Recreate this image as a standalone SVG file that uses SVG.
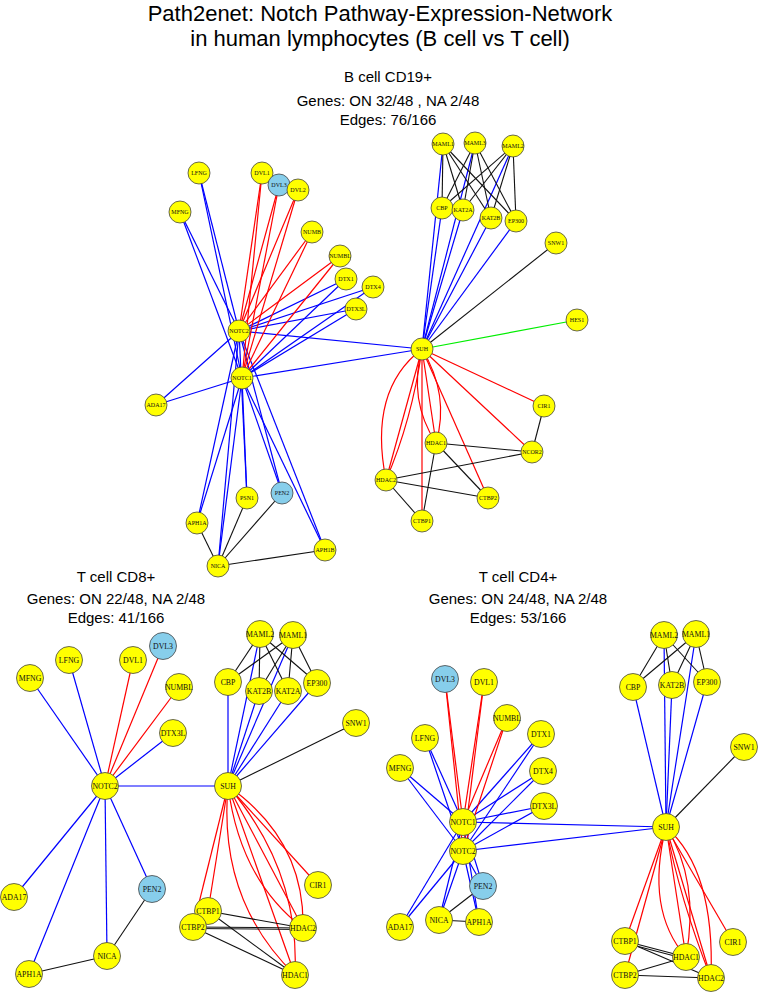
<svg xmlns="http://www.w3.org/2000/svg" width="759" height="992" viewBox="0 0 759 992">
<style>
.b{stroke:#0000ff;stroke-width:1.2;fill:none}
.r{stroke:#ff0000;stroke-width:1.2;fill:none}
.k{stroke:#111;stroke-width:1.1;fill:none}
.g{stroke:#00ee00;stroke-width:1.2;fill:none}
.n circle{fill:#ffff00;stroke:#444;stroke-width:0.8}
.n.c circle{fill:#87ceeb}
.s text{font-family:"Liberation Serif","Times New Roman",serif;font-size:6px;text-anchor:middle;fill:#111}
.l text{font-family:"Liberation Serif","Times New Roman",serif;font-size:7.8px;text-anchor:middle;fill:#111}
.h{font-family:"Liberation Sans",Arial,sans-serif;text-anchor:middle;fill:#000}
</style>
<rect width="759" height="992" fill="#fff"/>
<g id="titles">
<text class="h" x="380" y="21" font-size="22">Path2enet: Notch Pathway-Expression-Network</text>
<text class="h" x="380" y="46" font-size="22">in human lymphocytes (B cell vs T cell)</text>
<text class="h" x="388" y="82" font-size="15">B cell CD19+</text>
<text class="h" x="388" y="106" font-size="15">Genes: ON 32/48 , NA 2/48</text>
<text class="h" x="388" y="125" font-size="15">Edges: 76/166</text>
<text class="h" x="116" y="582" font-size="15">T cell CD8+</text>
<text class="h" x="116" y="604" font-size="15">Genes: ON 22/48, NA 2/48</text>
<text class="h" x="116" y="623" font-size="15">Edges: 41/166</text>
<text class="h" x="518" y="582" font-size="15">T cell CD4+</text>
<text class="h" x="518" y="604" font-size="15">Genes: ON 24/48, NA 2/48</text>
<text class="h" x="518" y="623" font-size="15">Edges: 53/166</text>
</g>
<g id="connectors">
<!-- B cell -->
<g class="b">
<line x1="199" y1="173" x2="239" y2="331"/><line x1="199" y1="173" x2="242" y2="378"/>
<line x1="180" y1="212" x2="239" y2="331"/><line x1="180" y1="212" x2="242" y2="378"/>
<line x1="346" y1="279" x2="239" y2="331"/><line x1="346" y1="279" x2="242" y2="378"/>
<line x1="373" y1="287" x2="239" y2="331"/><line x1="373" y1="287" x2="242" y2="378"/>
<line x1="356" y1="309" x2="239" y2="331"/><line x1="356" y1="309" x2="242" y2="378"/>
<line x1="156" y1="405" x2="239" y2="331"/><line x1="156" y1="405" x2="242" y2="378"/>
<line x1="247" y1="498" x2="239" y2="331"/><line x1="247" y1="498" x2="242" y2="378"/>
<line x1="282" y1="493" x2="239" y2="331"/><line x1="282" y1="493" x2="242" y2="378"/>
<line x1="197" y1="523" x2="239" y2="331"/><line x1="197" y1="523" x2="242" y2="378"/>
<line x1="218" y1="566" x2="239" y2="331"/><line x1="218" y1="566" x2="242" y2="378"/>
<line x1="325" y1="550" x2="239" y2="331"/><line x1="325" y1="550" x2="242" y2="378"/>
<line x1="422" y1="349" x2="239" y2="331"/><line x1="422" y1="349" x2="242" y2="378"/>
<line x1="443" y1="144" x2="422" y2="349"/><line x1="475" y1="143" x2="422" y2="349"/><line x1="513" y1="146" x2="422" y2="349"/>
<line x1="442" y1="208" x2="422" y2="349"/><line x1="463" y1="210" x2="422" y2="349"/><line x1="491" y1="218" x2="422" y2="349"/><line x1="516" y1="221" x2="422" y2="349"/>
</g>
<g class="r">
<line x1="262" y1="173" x2="239" y2="331"/><line x1="262" y1="173" x2="242" y2="378"/>
<line x1="279" y1="185" x2="239" y2="331"/><line x1="279" y1="185" x2="242" y2="378"/>
<line x1="298" y1="190" x2="239" y2="331"/><line x1="298" y1="190" x2="242" y2="378"/>
<line x1="312" y1="232" x2="239" y2="331"/><line x1="312" y1="232" x2="242" y2="378"/>
<line x1="340" y1="256" x2="239" y2="331"/><line x1="340" y1="256" x2="242" y2="378"/>
<line x1="422" y1="349" x2="544" y2="406"/><line x1="422" y1="349" x2="532" y2="452"/>
<line x1="422" y1="349" x2="488" y2="498"/><line x1="422" y1="349" x2="422" y2="521"/>
<line x1="422" y1="349" x2="436" y2="443"/><path d="M422 349 Q408 400 436 443"/><path d="M422 349 Q450 395 436 443"/>
<line x1="422" y1="349" x2="386" y2="480"/><path d="M422 349 Q368 390 386 480"/><path d="M422 349 Q412 420 386 480"/>
</g>
<g class="k">
<line x1="218" y1="566" x2="197" y2="523"/><line x1="218" y1="566" x2="247" y2="498"/><line x1="218" y1="566" x2="282" y2="493"/><line x1="218" y1="566" x2="325" y2="550"/>
<line x1="443" y1="144" x2="442" y2="208"/><line x1="443" y1="144" x2="463" y2="210"/><line x1="443" y1="144" x2="491" y2="218"/><line x1="443" y1="144" x2="516" y2="221"/>
<line x1="475" y1="143" x2="442" y2="208"/><line x1="475" y1="143" x2="463" y2="210"/><line x1="475" y1="143" x2="491" y2="218"/><line x1="475" y1="143" x2="516" y2="221"/>
<line x1="513" y1="146" x2="442" y2="208"/><line x1="513" y1="146" x2="463" y2="210"/><line x1="513" y1="146" x2="491" y2="218"/><line x1="513" y1="146" x2="516" y2="221"/>
<line x1="422" y1="349" x2="556" y2="243"/>
<line x1="544" y1="406" x2="532" y2="452"/><line x1="436" y1="443" x2="532" y2="452"/><line x1="436" y1="443" x2="488" y2="498"/><line x1="436" y1="443" x2="422" y2="521"/>
<line x1="386" y1="480" x2="532" y2="452"/><line x1="386" y1="480" x2="488" y2="498"/><line x1="386" y1="480" x2="422" y2="521"/>
</g>
<line class="g" x1="422" y1="349" x2="577" y2="320"/>
<!-- T cell CD8 -->
<g class="b">
<line x1="105" y1="786" x2="30" y2="678"/><line x1="105" y1="786" x2="69" y2="660"/><line x1="105" y1="786" x2="173" y2="733"/>
<line x1="105" y1="786" x2="14" y2="897"/><line x1="105" y1="786" x2="29" y2="974"/><line x1="105" y1="786" x2="107" y2="956"/><line x1="105" y1="786" x2="152" y2="889"/>
<line x1="105" y1="786" x2="228" y2="786"/>
<line x1="228" y1="682" x2="228" y2="786"/><line x1="260" y1="634" x2="228" y2="786"/><line x1="259" y1="691" x2="228" y2="786"/>
<line x1="293" y1="635" x2="228" y2="786"/><line x1="288" y1="691" x2="228" y2="786"/><line x1="317" y1="683" x2="228" y2="786"/>
</g>
<g class="r">
<line x1="105" y1="786" x2="133" y2="660"/><line x1="105" y1="786" x2="163" y2="646"/><line x1="105" y1="786" x2="179" y2="687"/>
<line x1="228" y1="786" x2="208" y2="911"/><line x1="228" y1="786" x2="193" y2="927"/><line x1="228" y1="786" x2="318" y2="885"/>
<line x1="228" y1="786" x2="303" y2="928"/><path d="M228 786 Q240 880 303 928"/><path d="M228 786 Q305 840 303 928"/>
<line x1="228" y1="786" x2="295" y2="975"/><path d="M228 786 Q218 900 295 975"/><path d="M228 786 Q300 870 295 975"/>
</g>
<g class="k">
<line x1="107" y1="956" x2="29" y2="974"/><line x1="107" y1="956" x2="152" y2="889"/>
<line x1="260" y1="634" x2="228" y2="682"/><line x1="260" y1="634" x2="259" y2="691"/><line x1="260" y1="634" x2="288" y2="691"/><line x1="260" y1="634" x2="317" y2="683"/>
<line x1="293" y1="635" x2="228" y2="682"/><line x1="293" y1="635" x2="259" y2="691"/><line x1="293" y1="635" x2="288" y2="691"/><line x1="293" y1="635" x2="317" y2="683"/>
<line x1="228" y1="786" x2="356" y2="723"/>
<line x1="208" y1="911" x2="303" y2="928"/><line x1="208" y1="911" x2="295" y2="975"/>
<line x1="193" y1="927" x2="303" y2="928"/><line x1="193" y1="928.5" x2="303" y2="929.5"/><line x1="193" y1="927" x2="295" y2="975"/>
</g>
<!-- T cell CD4 -->
<g class="b">
<line x1="425" y1="738" x2="463" y2="822"/><line x1="425" y1="738" x2="463" y2="851"/>
<line x1="400" y1="768" x2="463" y2="822"/><line x1="400" y1="768" x2="463" y2="851"/>
<line x1="541" y1="734" x2="463" y2="822"/><line x1="541" y1="734" x2="463" y2="851"/>
<line x1="543" y1="771" x2="463" y2="822"/><line x1="543" y1="771" x2="463" y2="851"/>
<line x1="544" y1="806" x2="463" y2="822"/><line x1="544" y1="806" x2="463" y2="851"/>
<line x1="666" y1="827" x2="463" y2="822"/><line x1="666" y1="827" x2="463" y2="851"/>
<line x1="400" y1="927" x2="463" y2="822"/><line x1="400" y1="927" x2="463" y2="851"/>
<line x1="439" y1="920" x2="463" y2="822"/><line x1="439" y1="920" x2="463" y2="851"/>
<line x1="483" y1="886" x2="463" y2="822"/><line x1="483" y1="886" x2="463" y2="851"/>
<line x1="479" y1="922" x2="463" y2="822"/><line x1="479" y1="922" x2="463" y2="851"/>
<line x1="633" y1="687" x2="666" y2="827"/><line x1="664" y1="635" x2="666" y2="827"/><line x1="672" y1="685" x2="666" y2="827"/>
<line x1="696" y1="634" x2="666" y2="827"/><line x1="707" y1="682" x2="666" y2="827"/>
</g>
<g class="r">
<line x1="445" y1="679" x2="463" y2="822"/><line x1="445" y1="679" x2="463" y2="851"/>
<line x1="484" y1="682" x2="463" y2="822"/><line x1="484" y1="682" x2="463" y2="851"/>
<line x1="507" y1="718" x2="463" y2="822"/><line x1="507" y1="718" x2="463" y2="851"/>
<line x1="666" y1="827" x2="625" y2="941"/><line x1="666" y1="827" x2="625" y2="975"/><line x1="666" y1="827" x2="733" y2="942"/>
<line x1="666" y1="827" x2="686" y2="957"/><path d="M666 827 Q645 910 686 957"/><path d="M666 827 Q700 880 686 957"/>
<line x1="666" y1="827" x2="711" y2="978"/><path d="M666 827 Q715 870 711 978"/><path d="M666 827 Q680 900 711 978"/>
</g>
<g class="k">
<line x1="439" y1="920" x2="483" y2="886"/><line x1="439" y1="920" x2="479" y2="922"/>
<line x1="664" y1="635" x2="633" y2="687"/><line x1="664" y1="635" x2="672" y2="685"/><line x1="664" y1="635" x2="707" y2="682"/>
<line x1="696" y1="634" x2="633" y2="687"/><line x1="696" y1="634" x2="672" y2="685"/><line x1="696" y1="634" x2="707" y2="682"/>
<line x1="666" y1="827" x2="744" y2="747"/>
<line x1="625" y1="941" x2="686" y2="957"/><line x1="625" y1="943" x2="686" y2="959"/><line x1="625" y1="941" x2="711" y2="978"/>
<line x1="625" y1="975" x2="686" y2="957"/><line x1="625" y1="975" x2="711" y2="978"/>
</g>
</g>
<!-- B cell nodes -->
<g class="s">
<g id="b-LFNG" class="n"><circle cx="199" cy="173" r="11"/><text x="199" y="175">LFNG</text></g>
<g id="b-MFNG" class="n"><circle cx="180" cy="212" r="11"/><text x="180" y="214">MFNG</text></g>
<g id="b-DVL1" class="n"><circle cx="262" cy="173" r="11"/><text x="262" y="175">DVL1</text></g>
<g id="b-DVL3" class="n c"><circle cx="279" cy="185" r="11"/><text x="279" y="187">DVL3</text></g>
<g id="b-DVL2" class="n"><circle cx="298" cy="190" r="11"/><text x="298" y="192">DVL2</text></g>
<g id="b-NUMB" class="n"><circle cx="312" cy="232" r="11"/><text x="312" y="234">NUMB</text></g>
<g id="b-NUMBL" class="n"><circle cx="340" cy="256" r="11"/><text x="340" y="258">NUMBL</text></g>
<g id="b-DTX1" class="n"><circle cx="346" cy="279" r="11"/><text x="346" y="281">DTX1</text></g>
<g id="b-DTX4" class="n"><circle cx="373" cy="287" r="11"/><text x="373" y="289">DTX4</text></g>
<g id="b-DTX3L" class="n"><circle cx="356" cy="309" r="11"/><text x="356" y="311">DTX3L</text></g>
<g id="b-NOTC2" class="n"><circle cx="239" cy="331" r="11"/><text x="239" y="333">NOTC2</text></g>
<g id="b-NOTC1" class="n"><circle cx="242" cy="378" r="11"/><text x="242" y="380">NOTC1</text></g>
<g id="b-ADA17" class="n"><circle cx="156" cy="405" r="11"/><text x="156" y="407">ADA17</text></g>
<g id="b-PSN1" class="n"><circle cx="247" cy="498" r="11"/><text x="247" y="500">PSN1</text></g>
<g id="b-PEN2" class="n c"><circle cx="282" cy="493" r="11"/><text x="282" y="495">PEN2</text></g>
<g id="b-APH1A" class="n"><circle cx="197" cy="523" r="11"/><text x="197" y="525">APH1A</text></g>
<g id="b-NICA" class="n"><circle cx="218" cy="566" r="11"/><text x="218" y="568">NICA</text></g>
<g id="b-APH1B" class="n"><circle cx="325" cy="550" r="11"/><text x="325" y="552">APH1B</text></g>
<g id="b-MAML1" class="n"><circle cx="443" cy="144" r="11"/><text x="443" y="146">MAML1</text></g>
<g id="b-MAML3" class="n"><circle cx="475" cy="143" r="11"/><text x="475" y="145">MAML3</text></g>
<g id="b-MAML2" class="n"><circle cx="513" cy="146" r="11"/><text x="513" y="148">MAML2</text></g>
<g id="b-CBP" class="n"><circle cx="442" cy="208" r="11"/><text x="442" y="210">CBP</text></g>
<g id="b-KAT2A" class="n"><circle cx="463" cy="210" r="11"/><text x="463" y="212">KAT2A</text></g>
<g id="b-KAT2B" class="n"><circle cx="491" cy="218" r="11"/><text x="491" y="220">KAT2B</text></g>
<g id="b-EP300" class="n"><circle cx="516" cy="221" r="11"/><text x="516" y="223">EP300</text></g>
<g id="b-SNW1" class="n"><circle cx="556" cy="243" r="11"/><text x="556" y="245">SNW1</text></g>
<g id="b-HES1" class="n"><circle cx="577" cy="320" r="11"/><text x="577" y="322">HES1</text></g>
<g id="b-SUH" class="n"><circle cx="422" cy="349" r="11"/><text x="422" y="351">SUH</text></g>
<g id="b-CIR1" class="n"><circle cx="544" cy="406" r="11"/><text x="544" y="408">CIR1</text></g>
<g id="b-HDAC1" class="n"><circle cx="436" cy="443" r="11"/><text x="436" y="445">HDAC1</text></g>
<g id="b-NCOR2" class="n"><circle cx="532" cy="452" r="11"/><text x="532" y="454">NCOR2</text></g>
<g id="b-HDAC2" class="n"><circle cx="386" cy="480" r="11"/><text x="386" y="482">HDAC2</text></g>
<g id="b-CTBP2" class="n"><circle cx="488" cy="498" r="11"/><text x="488" y="500">CTBP2</text></g>
<g id="b-CTBP1" class="n"><circle cx="422" cy="521" r="11"/><text x="422" y="523">CTBP1</text></g>
</g>
<!-- T cell CD8 nodes -->
<g class="l">
<g id="c8-MFNG" class="n"><circle cx="30" cy="678" r="13.5"/><text x="30" y="681">MFNG</text></g>
<g id="c8-LFNG" class="n"><circle cx="69" cy="660" r="13.5"/><text x="69" y="663">LFNG</text></g>
<g id="c8-DVL1" class="n"><circle cx="133" cy="660" r="13.5"/><text x="133" y="663">DVL1</text></g>
<g id="c8-DVL3" class="n c"><circle cx="163" cy="646" r="13.5"/><text x="163" y="649">DVL3</text></g>
<g id="c8-NUMBL" class="n"><circle cx="179" cy="687" r="13.5"/><text x="179" y="690">NUMBL</text></g>
<g id="c8-DTX3L" class="n"><circle cx="173" cy="733" r="13.5"/><text x="173" y="736">DTX3L</text></g>
<g id="c8-NOTC2" class="n"><circle cx="105" cy="786" r="13.5"/><text x="105" y="789">NOTC2</text></g>
<g id="c8-ADA17" class="n"><circle cx="14" cy="897" r="13.5"/><text x="14" y="900">ADA17</text></g>
<g id="c8-PEN2" class="n c"><circle cx="152" cy="889" r="13.5"/><text x="152" y="892">PEN2</text></g>
<g id="c8-APH1A" class="n"><circle cx="29" cy="974" r="13.5"/><text x="29" y="977">APH1A</text></g>
<g id="c8-NICA" class="n"><circle cx="107" cy="956" r="13.5"/><text x="107" y="959">NICA</text></g>
<g id="c8-MAML2" class="n"><circle cx="260" cy="634" r="13.5"/><text x="260" y="637">MAML2</text></g>
<g id="c8-MAML1" class="n"><circle cx="293" cy="635" r="13.5"/><text x="293" y="638">MAML1</text></g>
<g id="c8-CBP" class="n"><circle cx="228" cy="682" r="13.5"/><text x="228" y="685">CBP</text></g>
<g id="c8-KAT2B" class="n"><circle cx="259" cy="691" r="13.5"/><text x="259" y="694">KAT2B</text></g>
<g id="c8-KAT2A" class="n"><circle cx="288" cy="691" r="13.5"/><text x="288" y="694">KAT2A</text></g>
<g id="c8-EP300" class="n"><circle cx="317" cy="683" r="13.5"/><text x="317" y="686">EP300</text></g>
<g id="c8-SNW1" class="n"><circle cx="356" cy="723" r="13.5"/><text x="356" y="726">SNW1</text></g>
<g id="c8-SUH" class="n"><circle cx="228" cy="786" r="13.5"/><text x="228" y="789">SUH</text></g>
<g id="c8-CIR1" class="n"><circle cx="318" cy="885" r="13.5"/><text x="318" y="888">CIR1</text></g>
<g id="c8-HDAC2" class="n"><circle cx="303" cy="928" r="13.5"/><text x="303" y="931">HDAC2</text></g>
<g id="c8-HDAC1" class="n"><circle cx="295" cy="975" r="13.5"/><text x="295" y="978">HDAC1</text></g>
<g id="c8-CTBP1" class="n"><circle cx="208" cy="911" r="13.5"/><text x="208" y="914">CTBP1</text></g>
<g id="c8-CTBP2" class="n"><circle cx="193" cy="927" r="13.5"/><text x="193" y="930">CTBP2</text></g>
</g>
<!-- T cell CD4 nodes -->
<g class="l">
<g id="c4-DVL3" class="n c"><circle cx="445" cy="679" r="13.5"/><text x="445" y="682">DVL3</text></g>
<g id="c4-DVL1" class="n"><circle cx="484" cy="682" r="13.5"/><text x="484" y="685">DVL1</text></g>
<g id="c4-NUMBL" class="n"><circle cx="507" cy="718" r="13.5"/><text x="507" y="721">NUMBL</text></g>
<g id="c4-LFNG" class="n"><circle cx="425" cy="738" r="13.5"/><text x="425" y="741">LFNG</text></g>
<g id="c4-DTX1" class="n"><circle cx="541" cy="734" r="13.5"/><text x="541" y="737">DTX1</text></g>
<g id="c4-MFNG" class="n"><circle cx="400" cy="768" r="13.5"/><text x="400" y="771">MFNG</text></g>
<g id="c4-DTX4" class="n"><circle cx="543" cy="771" r="13.5"/><text x="543" y="774">DTX4</text></g>
<g id="c4-DTX3L" class="n"><circle cx="544" cy="806" r="13.5"/><text x="544" y="809">DTX3L</text></g>
<g id="c4-NOTC1" class="n"><circle cx="463" cy="822" r="13.5"/><text x="463" y="825">NOTC1</text></g>
<g id="c4-NOTC2" class="n"><circle cx="463" cy="851" r="13.5"/><text x="463" y="854">NOTC2</text></g>
<g id="c4-PEN2" class="n c"><circle cx="483" cy="886" r="13.5"/><text x="483" y="889">PEN2</text></g>
<g id="c4-ADA17" class="n"><circle cx="400" cy="927" r="13.5"/><text x="400" y="930">ADA17</text></g>
<g id="c4-NICA" class="n"><circle cx="439" cy="920" r="13.5"/><text x="439" y="923">NICA</text></g>
<g id="c4-APH1A" class="n"><circle cx="479" cy="922" r="13.5"/><text x="479" y="925">APH1A</text></g>
<g id="c4-MAML2" class="n"><circle cx="664" cy="635" r="13.5"/><text x="664" y="638">MAML2</text></g>
<g id="c4-MAML1" class="n"><circle cx="696" cy="634" r="13.5"/><text x="696" y="637">MAML1</text></g>
<g id="c4-CBP" class="n"><circle cx="633" cy="687" r="13.5"/><text x="633" y="690">CBP</text></g>
<g id="c4-KAT2B" class="n"><circle cx="672" cy="685" r="13.5"/><text x="672" y="688">KAT2B</text></g>
<g id="c4-EP300" class="n"><circle cx="707" cy="682" r="13.5"/><text x="707" y="685">EP300</text></g>
<g id="c4-SNW1" class="n"><circle cx="744" cy="747" r="13.5"/><text x="744" y="750">SNW1</text></g>
<g id="c4-SUH" class="n"><circle cx="666" cy="827" r="13.5"/><text x="666" y="830">SUH</text></g>
<g id="c4-CTBP1" class="n"><circle cx="625" cy="941" r="13.5"/><text x="625" y="944">CTBP1</text></g>
<g id="c4-CIR1" class="n"><circle cx="733" cy="942" r="13.5"/><text x="733" y="945">CIR1</text></g>
<g id="c4-HDAC1" class="n"><circle cx="686" cy="957" r="13.5"/><text x="686" y="960">HDAC1</text></g>
<g id="c4-CTBP2" class="n"><circle cx="625" cy="975" r="13.5"/><text x="625" y="978">CTBP2</text></g>
<g id="c4-HDAC2" class="n"><circle cx="711" cy="978" r="13.5"/><text x="711" y="981">HDAC2</text></g>
</g>
</svg>
